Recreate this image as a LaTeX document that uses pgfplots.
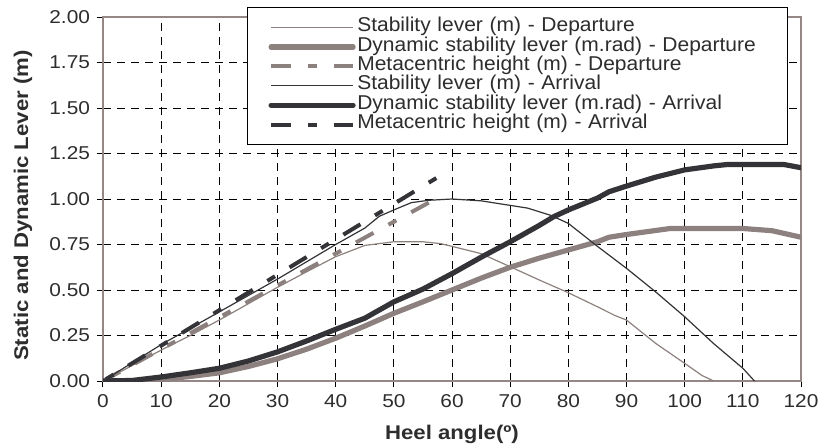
\documentclass[border=0pt]{standalone}
\usepackage{fontspec}
\setmainfont{Liberation Sans}[FakeStretch=1.12]
\newfontfamily\legfont{Liberation Sans}[FakeStretch=1.05]
\usepackage{pgfplots}
\pgfplotsset{compat=1.18}
\definecolor{depgray}{RGB}{140,129,126}
\definecolor{arrdark}{RGB}{52,51,55}
\definecolor{framegray}{RGB}{150,135,135}
\definecolor{textgray}{RGB}{45,45,45}
\begin{document}
\begin{tikzpicture}
\path[use as bounding box] (-51.5pt,-32.5pt) rectangle (359.5pt,190.5pt);
\begin{axis}[
  at={(0,0)}, anchor=south west,
  scale only axis, width=349pt, height=182pt,
  xmin=0, xmax=120, ymin=0, ymax=2,
  xtick={0,10,20,30,40,50,60,70,80,90,100,110,120},
  ytick={0,0.25,0.5,0.75,1,1.25,1.5,1.75,2},
  yticklabel style={/pgf/number format/.cd, fixed, fixed zerofill, precision=2},
  /pgf/number format/assume math mode=true,
  tick label style={font=\fontsize{9.3}{10}\selectfont, text=textgray},
  grid=major,
  major grid style={black, dash pattern=on 4pt off 3pt, line width=0.4pt},
  axis line style={draw=framegray, line width=0.8pt},
  tick style={black, line width=0.5pt},
  tick align=outside, major tick length=3pt,
  xtick pos=left, ytick pos=left,
  xlabel={\textbf{Heel angle(º)}},
  ylabel={\textbf{Static and Dynamic Lever (m)}},
  label style={font=\fontsize{9.9}{10}\selectfont, text=textgray},
  xlabel style={at={(axis description cs:0.5,-0.146)}, anchor=center},
  ylabel style={at={(axis description cs:-0.1146,0.482)}, anchor=center},
  legend cell align=left,
  legend image code/.code={\draw[#1, dash phase=0pt] (0pt,0pt) -- (41pt,0pt);},
  legend style={at={(axis description cs:0.2063,1.0275)}, anchor=north west,
    draw=black, line width=0.5pt, fill=white,
    inner xsep=10.5pt, inner ysep=5.2pt,
    font=\legfont\fontsize{10}{9.7}\selectfont, text=textgray,
    nodes={inner sep=0pt, text height=6.9pt, text depth=2.8pt},
    column sep=0.8pt,
    /tikz/column 2/.style={nodes={text width=204.7pt, align=left}}},
]
% Stability lever - Departure
\addplot[depgray, line width=0.6pt] coordinates {
(0,0) (5,0.085) (10,0.17) (15,0.25) (20,0.335) (25,0.425) (30,0.515) (35,0.60)
(40,0.683) (45,0.745) (50,0.765) (55,0.765) (58,0.755) (60,0.74) (65,0.70)
(70,0.628) (75,0.555) (80,0.485) (85,0.408) (88,0.36) (90,0.335) (95,0.207)
(100,0.097) (103,0.03) (105,0)};
\addlegendentry{Stability lever (m) - Departure}
% Dynamic stability lever - Departure
\addplot[depgray, line width=2.6pt, line cap=round, line join=round] coordinates {
(0,0) (5,0) (8,0.003) (10,0.008) (15,0.025) (20,0.045) (25,0.08) (30,0.122)
(35,0.175) (40,0.235) (45,0.302) (50,0.372) (55,0.435) (60,0.50) (65,0.565)
(70,0.625) (75,0.675) (80,0.72) (85,0.765) (87,0.79) (90,0.805) (97.5,0.838)
(110,0.838) (115,0.826) (120,0.79)};
\addlegendentry{Dynamic stability lever (m.rad) - Departure}
% Metacentric height - Departure
\addplot[depgray, line width=2pt, dash pattern=on 10pt off 8.5pt on 4.5pt off 8.5pt, dash phase=13.3pt] coordinates {
(0,0) (56,0.98)};
\addlegendentry{Metacentric height (m) - Departure}
% Stability lever - Arrival
\addplot[arrdark, line width=0.6pt] coordinates {
(0,0) (5,0.10) (10,0.20) (15,0.29) (20,0.38) (25,0.47) (30,0.56) (35,0.655)
(40,0.75) (45,0.84) (47.5,0.905) (50,0.94) (53,0.98) (56,0.993) (60,1.0) (65,0.99)
(70,0.965) (73,0.95) (77,0.91) (80,0.866) (85,0.74) (90,0.619) (95,0.49)
(100,0.353) (105,0.205) (109,0.097) (110,0.07) (112,0)};
\addlegendentry{Stability lever (m) - Arrival}
% Dynamic stability lever - Arrival
\addplot[arrdark, line width=2.6pt, line cap=round, line join=round] coordinates {
(0,0) (5,0.003) (10,0.022) (15,0.045) (20,0.07) (25,0.11) (30,0.16) (35,0.22)
(40,0.284) (45,0.345) (50,0.435) (55,0.505) (60,0.59) (65,0.68) (70,0.765)
(75,0.855) (77.5,0.903) (80,0.94) (85,1.005) (87,1.04) (90,1.071) (95,1.12)
(100,1.16) (105,1.182) (107.5,1.19) (117,1.19) (120,1.172)};
\addlegendentry{Dynamic stability lever (m.rad) - Arrival}
% Metacentric height - Arrival
\addplot[arrdark, line width=2pt, dash pattern=on 10pt off 8.5pt on 4.5pt off 8.5pt, dash phase=16.8pt] coordinates {
(0,0) (57.3,1.115)};
\addlegendentry{Metacentric height (m) - Arrival}
\end{axis}
\end{tikzpicture}
\end{document}
